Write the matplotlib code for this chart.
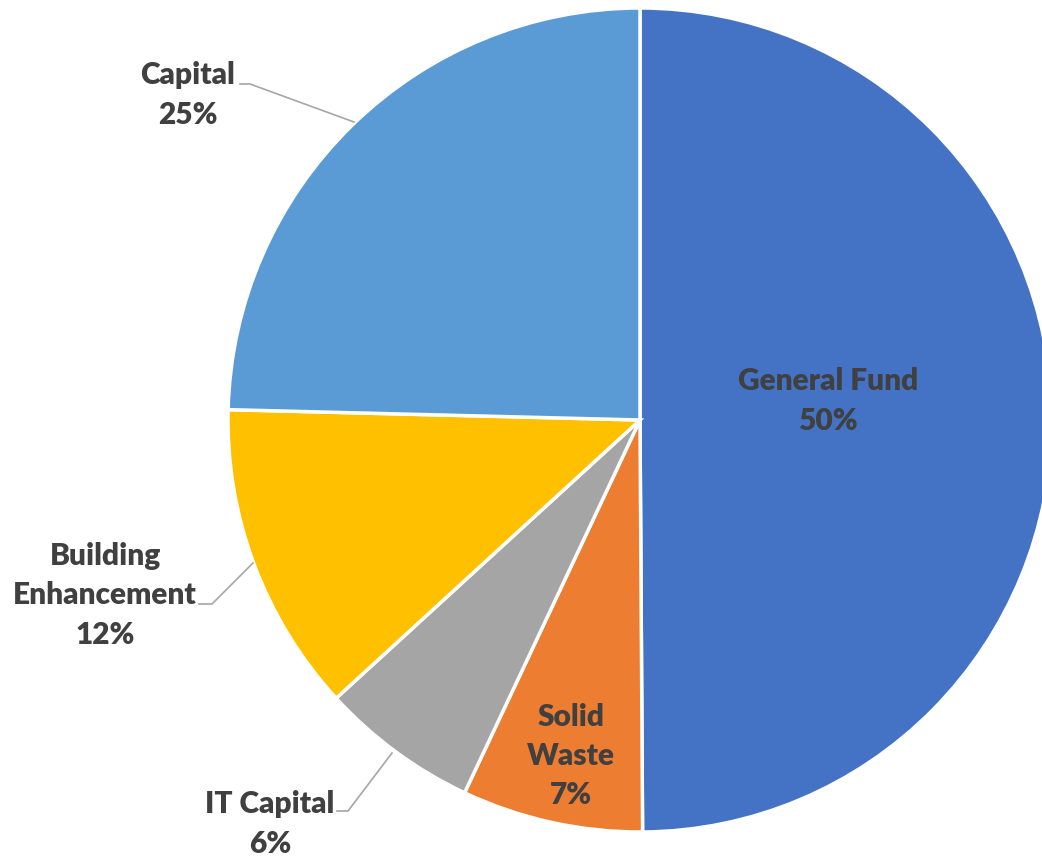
import matplotlib
matplotlib.use("Agg")
import matplotlib.pyplot as plt

# data, clockwise from 12 o'clock
funds = ["General Fund", "Solid Waste", "IT Capital", "Building Enhancement", "Capital"]
shares = [49.9, 7.1, 6.2, 12.2, 24.6]
colors = ["#4472C4", "#ED7D31", "#A5A5A5", "#FFC000", "#5B9BD5"]
label_text = ["General Fund", "Solid\nWaste", "IT Capital", "Building\nEnhancement", "Capital"]

W, H = 1042, 857
CX, CY, R = 640, 420, 412  # pie centre / radius in pixels (top-down)

def px(x, y):
    return (x - CX) / R, (CY - y) / R

# label centres and leader lines in pixels
label_pos = {
    "General Fund": (828, 401),
    "Solid Waste": (571, 756),
    "IT Capital": (270, 824),
    "Building Enhancement": (105, 595),
    "Capital": (188, 95),
}
leaders = {
    "IT Capital": [(337, 811), (348, 811), (392, 753)],
    "Building Enhancement": [(199, 604), (212, 604), (253, 563)],
    "Capital": [(240, 84), (250, 84), (354, 122)],
}

fig = plt.figure(figsize=(W / 100, H / 100), dpi=100)
ax = fig.add_axes([(CX - R) / W, (H - CY - R) / H, 2 * R / W, 2 * R / H])
ax.pie(shares, colors=colors, startangle=90, counterclock=False, radius=1,
       wedgeprops=dict(edgecolor="white", linewidth=2.5))
ax.set_xlim(-1, 1)
ax.set_ylim(-1, 1)
ax.set_aspect("auto")
ax.axis("off")

for name, txt, val in zip(funds, label_text, shares):
    x, y = px(*label_pos[name])
    ax.text(x, y, f"{txt}\n{val:.0f}%", ha="center", va="center",
            fontsize=21.5, fontweight="heavy", family=["Lato", "DejaVu Sans"],
            color="#404040", linespacing=1.5, clip_on=False)

for name, pts in leaders.items():
    xs, ys = zip(*[px(*p) for p in pts])
    ax.plot(xs, ys, color="#A6A6A6", lw=1.2, clip_on=False)

fig.savefig("out.png", dpi=100)
